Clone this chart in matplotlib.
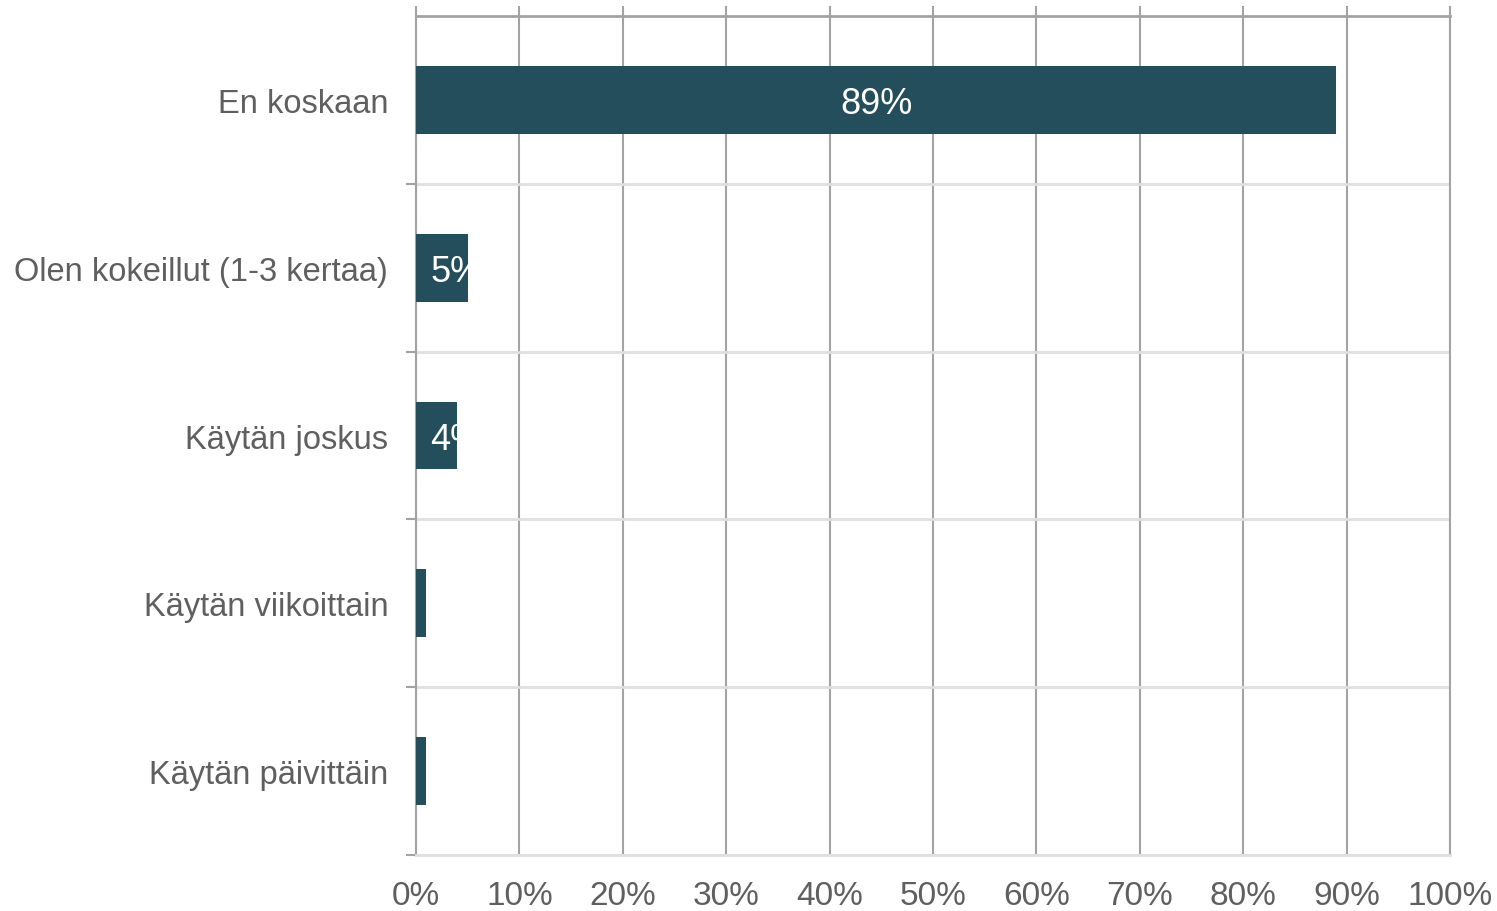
import matplotlib.pyplot as plt
from matplotlib.ticker import FuncFormatter

plt.rcParams['font.family'] = ['Liberation Sans', 'DejaVu Sans']

categories = ["En koskaan", "Olen kokeillut (1-3 kertaa)", "Käytän joskus",
              "Käytän viikoittain", "Käytän päivittäin"]
values = [89, 5, 4, 1, 1]

bar_color = "#244e5c"
grid_color = "#a3a3a3"
sep_color = "#e0e0e0"
text_color = "#5f5f5f"

fig = plt.figure(figsize=(14.97, 9.12), dpi=100)
ax = fig.add_axes([416 / 1497, 1 - 856 / 912, (1450 - 416) / 1497, (856 - 17) / 912])

pos = list(range(len(categories)))
bars = ax.barh(pos, values, height=0.405, color=bar_color, zorder=3)

for b, v in zip(bars, values):
    x = max(v / 2, 3.9)
    t = ax.text(x, b.get_y() + b.get_height() / 2, f"{v}%", color="white",
                fontsize=26, ha="center", va="center_baseline", zorder=4)
    t.set_clip_path(b)

ax.set_xlim(0, 100)
ax.set_ylim(len(categories) - 0.5, -0.5)
ax.set_xticks(range(0, 101, 10))
ax.xaxis.set_major_formatter(FuncFormatter(lambda x, p: f"{int(x)}%"))
ax.tick_params(axis="x", top=True, bottom=False, labelbottom=True, labeltop=False,
               length=7, width=1.5, color=grid_color, labelsize=24,
               labelcolor=text_color, pad=11)
ax.xaxis.grid(True, color=grid_color, linewidth=1.5, zorder=1)

ax.set_yticks(pos)
ax.set_yticklabels(categories)
ax.set_yticks([p + 0.5 for p in pos], minor=True)
ax.tick_params(axis="y", which="major", length=0, labelsize=23.5,
               labelcolor=text_color, pad=20)
ax.tick_params(axis="y", which="minor", length=7, width=1.5, color=grid_color)
ax.yaxis.grid(True, which="minor", color=sep_color, linewidth=2, zorder=1)

for s in ["left", "right"]:
    ax.spines[s].set_color(grid_color)
    ax.spines[s].set_linewidth(1.5)
ax.spines["top"].set_color(grid_color)
ax.spines["top"].set_linewidth(2)
ax.spines["bottom"].set_color(sep_color)
ax.spines["bottom"].set_linewidth(2)

fig.savefig("out.png", dpi=100)
